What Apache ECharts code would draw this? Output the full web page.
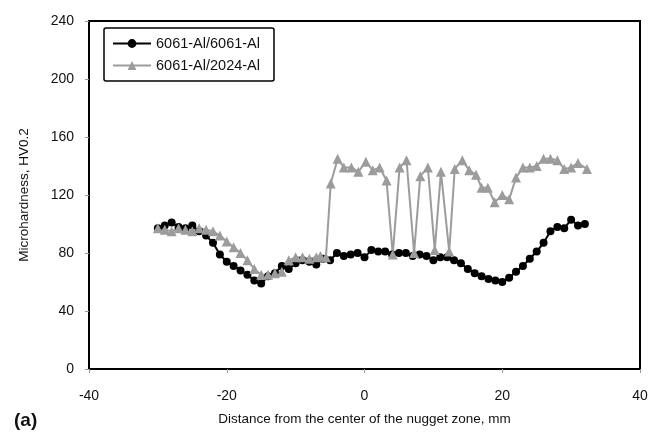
<!DOCTYPE html>
<html>
<head>
<meta charset="utf-8">
<script src="https://cdn.jsdelivr.net/npm/echarts@6/dist/echarts.min.js"></script>
<style>
html,body{margin:0;padding:0;background:#fff;}
#c{width:666px;height:437px;}
</style>
</head>
<body>
<div id="c"></div>
<script>
var seriesNames = ['6061-Al/6061-Al', '6061-Al/2024-Al'];

var xTicks = [-40, -20, 0, 20, 40];
var yTicks = [0, 40, 80, 120, 160, 200, 240];

var blackX = [-30,-29,-28,-27,-26,-25,-24,-23,-22,-21,-20,-19,-18,-17,-16,-15,-14,-13,-12,-11,-10,-9,-8,-7,-6,-5,-4,-3,-2,-1,0,1,2,3,4,5,6,7,8,9,10,11,12,13,14,15,16,17,18,19,20,21,22,23,24,25,26,27,28,29,30,31,32];
var blackY = [97,99,101,98,97,99,95,92,87,79,74,71,68,65,61,59,64,66,71,69,73,75,74,72,76,75,80,78,79,80,77,82,81,81,79,80,80,78,79,78,75,77,77,75,73,69,66,64,62,61,60,63,67,71,76,81,87,95,98,97,103,99,100];

var grayX = [-30,-29,-28,-27,-26,-25,-24,-23,-22,-21,-20,-19,-18,-17,-16,-15,-14,-13,-12,-11,-10,-9,-8,-7,-6.4,-5.6,-4.9,-3.9,-3.0,-1.9,-0.9,0.2,1.2,2.2,3.2,4.1,5.1,6.1,7.2,8.1,9.2,10.2,11.1,12.3,13.1,14.2,15.2,16.2,17.0,17.9,18.9,20.0,21.0,22.0,23.0,24.0,25.0,26.0,27.0,28.0,29.0,30.0,31.0,32.3];
var grayY = [97,96,95,97,96,95,97,96,95,92,88,84,80,75,69,65,65,66,67,75,77,77,76,77,78,77,128,145,139,139,136,143,137,139,130,79,139,144,80,133,139,82,136,81,138,144,137,134,125,125,115,120,117,132,139,139,140,145,145,144,138,139,142,138];

function pairs(xs, ys){ return xs.map(function(x,i){ return [x, ys[i]]; }); }

var FONT = 'Liberation Sans';
var chart = echarts.init(document.getElementById('c'), null, {renderer:'canvas'});
chart.setOption({
  backgroundColor: '#fff',
  animation: false,
  textStyle: {fontFamily: FONT},
  grid: {left: 89, right: 26, top: 21, bottom: 68, show: true, borderColor: '#000', borderWidth: 2},
  legend: {
    left: 104, top: 28, orient: 'vertical',
    padding: [8, 14, 8, 8],
    itemGap: 7,
    itemWidth: 38, itemHeight: 11,
    borderColor: '#000', borderWidth: 1.5, borderRadius: 2,
    textStyle: {fontFamily: FONT, fontSize: 14.5, color: '#111'},
    data: [seriesNames[0], seriesNames[1]]
  },
  xAxis: {
    type: 'value', min: -40, max: 40, interval: 20,
    name: 'Distance from the center of the nugget zone, mm',
    nameLocation: 'middle', nameGap: 43,
    nameTextStyle: {fontFamily: FONT, fontSize: 13.5, color: '#111'},
    axisLine: {onZero: false, lineStyle: {color: '#000', width: 2}},
    axisTick: {show: true, length: 4, lineStyle: {color: '#999'}},
    axisLabel: {margin: 20, fontSize: 14, color: '#111', fontFamily: FONT},
    splitLine: {show: false}
  },
  yAxis: {
    type: 'value', min: 0, max: 240, interval: 40,
    name: 'Microhardness, HV0.2',
    nameLocation: 'middle', nameGap: 58,
    nameTextStyle: {fontFamily: FONT, fontSize: 13.5, color: '#111'},
    axisLine: {show: true, onZero: false, lineStyle: {color: '#000', width: 2}},
    axisTick: {show: true, length: 4, lineStyle: {color: '#999'}},
    axisLabel: {margin: 15, fontSize: 14, color: '#111', fontFamily: FONT},
    splitLine: {show: false}
  },
  graphic: [{
    type: 'text', left: 14, top: 411,
    style: {text: '(a)', font: 'bold 19px "Liberation Sans"', fill: '#111'}
  }],
  series: [
    {
      name: seriesNames[0], type: 'line', data: pairs(blackX, blackY),
      symbol: 'circle', symbolSize: 8,
      lineStyle: {color: '#000', width: 2},
      itemStyle: {color: '#000'}
    },
    {
      name: seriesNames[1], type: 'line', data: pairs(grayX, grayY),
      symbol: 'triangle', symbolSize: 10,
      lineStyle: {color: '#9c9c9c', width: 2},
      itemStyle: {color: '#9c9c9c'}
    }
  ]
});
</script>
</body>
</html>
